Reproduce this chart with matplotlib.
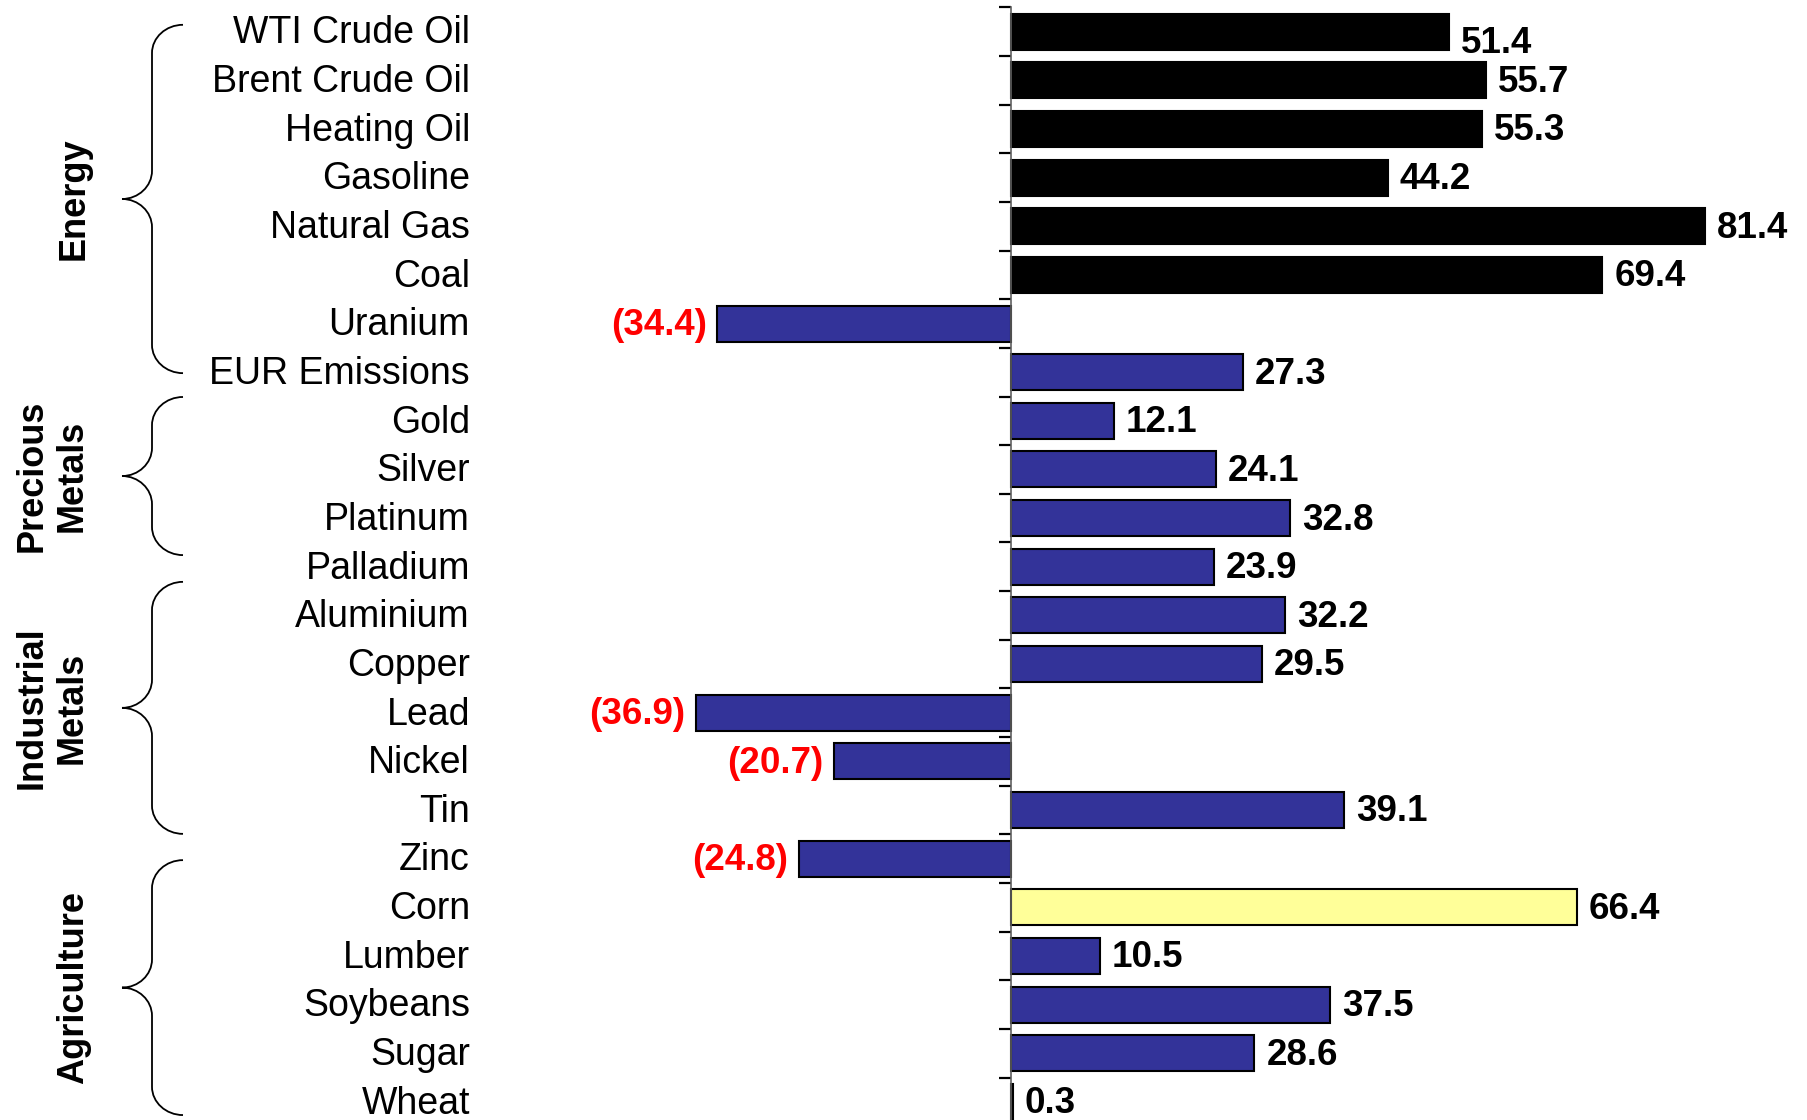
import matplotlib
matplotlib.use('Agg')
import matplotlib.pyplot as plt
from matplotlib.path import Path
from matplotlib.patches import PathPatch
from matplotlib.transforms import blended_transform_factory
import numpy as np

plt.rcParams['font.family'] = ['Liberation Sans', 'DejaVu Sans']

# 1-year price change by commodity, %
COMMODITIES = ['WTI Crude Oil', 'Brent Crude Oil', 'Heating Oil', 'Gasoline',
               'Natural Gas', 'Coal', 'Uranium', 'EUR Emissions',
               'Gold', 'Silver', 'Platinum', 'Palladium',
               'Aluminium', 'Copper', 'Lead', 'Nickel', 'Tin', 'Zinc',
               'Corn', 'Lumber', 'Soybeans', 'Sugar', 'Wheat']
CHANGE_PCT = [51.4, 55.7, 55.3, 44.2, 81.4, 69.4, -34.4, 27.3,
              12.1, 24.1, 32.8, 23.9,
              32.2, 29.5, -36.9, -20.7, 39.1, -24.8,
              66.4, 10.5, 37.5, 28.6, 0.3]
SECTORS = ['Energy', 'Precious\nMetals', 'Industrial\nMetals', 'Agriculture']

# brace extents in row units (top, bottom) and label x in pixels
BRACE_ROWS = [(-0.14, 7.02), (7.51, 10.76), (11.31, 16.49), (17.03, 22.27)]
SECTOR_LABEL_X = [74, 52, 52, 74]

W, H = 1807, 1120
NAVY = '#333399'
HILITE = '#FFFF99'
OIL_BLACK = 6  # first six bars drawn in black
TEXT_NUDGE = 0.045  # lift text a touch above the row centre


def bar_colours():
    cols = []
    for i, name in enumerate(COMMODITIES):
        if i < OIL_BLACK:
            cols.append('black')
        elif name == 'Corn':
            cols.append(HILITE)
        else:
            cols.append(NAVY)
    return cols


def brace(ov, trans, top, bottom, x_tip=122, x_stem=152, x_end=183, r=0.58):
    mid = (top + bottom) / 2
    dx_end = x_end - x_stem
    dx_tip = x_stem - x_tip
    verts = [
        (x_end, top),
        (x_end - 0.55 * dx_end, top), (x_stem, top + 0.45 * r), (x_stem, top + r),
        (x_stem, mid - r),
        (x_stem, mid - 0.45 * r), (x_tip + 0.55 * dx_tip, mid), (x_tip, mid),
        (x_tip + 0.55 * dx_tip, mid), (x_stem, mid + 0.45 * r), (x_stem, mid + r),
        (x_stem, bottom - r),
        (x_stem, bottom - 0.45 * r), (x_end - 0.55 * dx_end, bottom), (x_end, bottom),
    ]
    codes = ([Path.MOVETO] + [Path.CURVE4] * 3 + [Path.LINETO] + [Path.CURVE4] * 6
             + [Path.LINETO] + [Path.CURVE4] * 3)
    ov.add_patch(PathPatch(Path(verts, codes), transform=trans, fill=False,
                           edgecolor='black', linewidth=1.3, clip_on=False))


fig = plt.figure(figsize=(W / 100, H / 100), dpi=100)

# x axis: zero line sits at pixel 1010, 8.5 px per unit
xmin, xmax = -50, 90
axis_px = 1010.5
px_per_unit = 8.53
left_px = axis_px + xmin * px_per_unit
width_px = (xmax - xmin) * px_per_unit
top_px, bottom_px = 7.3, 7.3 + 23 * 48.65
ax = fig.add_axes([left_px / W, 1 - bottom_px / H, width_px / W, (bottom_px - top_px) / H])

y = np.arange(len(COMMODITIES))
ax.barh(y, CHANGE_PCT, height=0.74, color=bar_colours(), edgecolor='black', linewidth=1.5)
ax.set_xlim(xmin, xmax)
ax.set_ylim(len(COMMODITIES) - 0.5, -0.5)

for i, v in enumerate(CHANGE_PCT):
    # the top label gets pushed down a little, off the plot edge
    dy = -6 if i == 0 else 1.5
    if v >= 0:
        ax.annotate(f'{v:.1f}', xy=(v, i), xytext=(8.5, dy), textcoords='offset points',
                    ha='left', va='center_baseline', fontsize=26.5, fontweight='bold')
    else:
        ax.annotate(f'({abs(v):.1f})', xy=(v, i), xytext=(-7.5, dy), textcoords='offset points',
                    ha='right', va='center_baseline', fontsize=26.5, fontweight='bold',
                    color='#FF0000')

for side in ['top', 'right', 'bottom']:
    ax.spines[side].set_visible(False)
ax.spines['left'].set_position(('data', 0))
ax.spines['left'].set_color('#606060')
ax.spines['left'].set_linewidth(1.2)
ax.set_xticks([])
ax.set_yticks(np.arange(-0.5, len(COMMODITIES), 1))
ax.set_yticklabels([])
ax.tick_params(axis='y', length=9, width=1.6, direction='out', color='black')

# overlay in pixel units for the category names, braces and sector labels
ov = fig.add_axes([0, 0, 1, 1])
ov.set_xlim(0, W)
ov.set_ylim(H, 0)
ov.axis('off')
trans = blended_transform_factory(ov.transData, ax.transData)

for i, name in enumerate(COMMODITIES):
    ov.text(470, i - TEXT_NUDGE, name, transform=trans, ha='right', va='center_baseline',
            fontsize=27)

for (top, bottom), label, lx in zip(BRACE_ROWS, SECTORS, SECTOR_LABEL_X):
    brace(ov, trans, top, bottom)
    ov.text(lx, (top + bottom) / 2, label, transform=trans, rotation=90,
            ha='center', va='center', multialignment='center',
            fontsize=26, fontweight='bold', linespacing=1.2)

fig.savefig('out.png', dpi=100)
